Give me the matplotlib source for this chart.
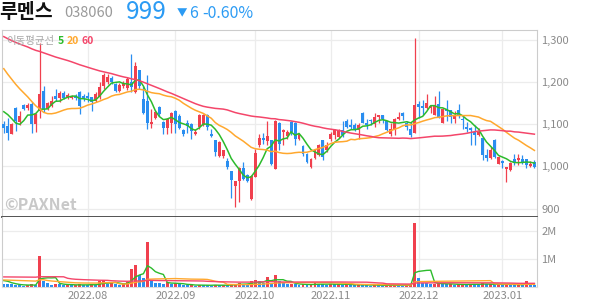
import matplotlib.pyplot as plt
import numpy as np
import pandas as pd
from matplotlib.ticker import FuncFormatter

plt.rcParams['font.family'] = ['Noto Sans CJK KR', 'DejaVu Sans']

# 일봉 데이터 (2022-07-01 ~ 2023-01-12)
opens = [1100, 1096, 1078, 1138, 1106, 1146, 1138, 1148, 1102, 1132,
         1178, 1136, 1144, 1168, 1162, 1174, 1163, 1163, 1168, 1176,
         1168, 1168, 1164, 1156, 1164, 1192, 1200, 1210, 1196, 1180,
         1190, 1186, 1200, 1176, 1228, 1160, 1156, 1102, 1116, 1140,
         1106, 1092, 1104, 1132, 1120, 1087, 1104, 1102, 1076, 1094,
         1099, 1121, 1076, 1062, 1025, 1025, 1012, 989, 954, 965,
         997, 979, 922, 975, 1052, 1068, 1061, 1062, 995, 1104,
         1083, 1072, 1106, 1104, 1065, 1048, 1030, 999, 1019, 1028,
         1062, 1038, 1065, 1074, 1070, 1086, 1107, 1098, 1099, 1086,
         1128, 1103, 1111, 1102, 1117, 1121, 1107, 1076, 1088, 1113,
         1128, 1104, 1088, 1080, 1149, 1143, 1139, 1139, 1123, 1149,
         1104, 1137, 1133, 1113, 1133, 1113, 1094, 1091, 1082, 1074,
         1068, 1028, 1019, 1062, 1007, 1012, 995, 991, 1017, 1015,
         1017, 1017, 1000, 1010]
highs = [1108, 1116, 1102, 1140, 1132, 1148, 1150, 1152, 1128, 1292,
         1192, 1154, 1168, 1184, 1178, 1180, 1174, 1170, 1172, 1180,
         1172, 1176, 1166, 1176, 1200, 1222, 1220, 1214, 1198, 1198,
         1202, 1212, 1268, 1248, 1230, 1192, 1218, 1136, 1134, 1144,
         1108, 1114, 1130, 1134, 1124, 1090, 1110, 1104, 1090, 1124,
         1124, 1124, 1090, 1064, 1060, 1040, 1019, 990, 966, 999,
         1011, 983, 979, 1042, 1076, 1080, 1107, 1064, 1110, 1106,
         1088, 1087, 1107, 1106, 1078, 1050, 1032, 1019, 1042, 1054,
         1064, 1058, 1082, 1088, 1090, 1107, 1112, 1112, 1102, 1102,
         1130, 1113, 1113, 1128, 1122, 1122, 1108, 1102, 1114, 1129,
         1130, 1107, 1106, 1305, 1155, 1157, 1173, 1147, 1167, 1178,
         1139, 1157, 1135, 1131, 1149, 1121, 1106, 1094, 1098, 1091,
         1070, 1042, 1046, 1065, 1025, 1015, 999, 1010, 1030, 1030,
         1028, 1017, 1012, 1015]
lows = [1080, 1062, 1076, 1084, 1098, 1134, 1134, 1080, 1082, 1116,
        1130, 1134, 1140, 1156, 1154, 1160, 1160, 1160, 1158, 1124,
        1156, 1152, 1132, 1152, 1160, 1184, 1196, 1196, 1176, 1176,
        1186, 1182, 1176, 1174, 1184, 1124, 1088, 1092, 1112, 1120,
        1078, 1078, 1080, 1080, 1088, 1072, 1080, 1065, 1074, 1090,
        1096, 1087, 1070, 1025, 1022, 1020, 995, 924, 904, 916,
        967, 963, 920, 975, 1046, 1054, 1050, 1004, 994, 1038,
        1050, 1066, 1074, 1050, 1062, 1025, 1008, 997, 1017, 1026,
        1016, 1034, 1060, 1065, 1068, 1070, 1091, 1090, 1085, 1066,
        1102, 1088, 1098, 1094, 1102, 1102, 1084, 1072, 1074, 1110,
        1110, 1086, 1070, 1079, 1114, 1121, 1136, 1128, 1121, 1115,
        1102, 1107, 1104, 1104, 1115, 1088, 1082, 1050, 1052, 1072,
        1015, 1012, 1017, 1019, 1005, 997, 963, 989, 1004, 1004,
        1007, 997, 998, 997]
closes = [1092, 1080, 1100, 1108, 1120, 1136, 1146, 1102, 1124, 1172,
          1136, 1150, 1156, 1160, 1174, 1162, 1170, 1168, 1162, 1144,
          1160, 1162, 1152, 1172, 1188, 1218, 1212, 1200, 1180, 1194,
          1198, 1208, 1188, 1238, 1192, 1128, 1104, 1106, 1130, 1124,
          1092, 1112, 1126, 1100, 1092, 1076, 1096, 1084, 1082, 1121,
          1121, 1094, 1072, 1034, 1058, 1038, 999, 967, 965, 997,
          971, 966, 977, 1031, 1068, 1062, 1072, 1007, 1107, 1054,
          1087, 1082, 1082, 1065, 1076, 1030, 1011, 1017, 1038, 1052,
          1023, 1052, 1076, 1087, 1087, 1074, 1094, 1094, 1088, 1098,
          1104, 1098, 1107, 1117, 1121, 1112, 1086, 1088, 1112, 1117,
          1120, 1094, 1074, 1147, 1141, 1139, 1151, 1144, 1147, 1117,
          1137, 1131, 1117, 1121, 1123, 1110, 1090, 1087, 1074, 1082,
          1028, 1019, 1038, 1023, 1023, 1008, 999, 1008, 1009, 1021,
          1011, 1004, 1005, 999]
# 거래량 (백만주)
volumes = [0.12, 0.10, 0.09, 0.08, 0.06, 0.05, 0.07, 0.09, 0.08, 1.12,
           0.21, 0.14, 0.08, 0.12, 0.10, 0.07, 0.08, 0.06, 0.07, 0.10,
           0.08, 0.07, 0.09, 0.06, 0.20, 0.24, 0.10, 0.16, 0.12, 0.08,
           0.10, 0.18, 0.64, 0.79, 0.43, 0.33, 1.62, 0.21, 0.15, 0.14,
           0.12, 0.18, 0.11, 0.13, 0.09, 0.08, 0.06, 0.07, 0.05, 0.08,
           0.07, 0.06, 0.05, 0.08, 0.06, 0.07, 0.06, 0.09, 0.12, 0.14,
           0.10, 0.08, 0.20, 0.26, 0.20, 0.14, 0.37, 0.15, 0.43, 0.21,
           0.15, 0.10, 0.12, 0.10, 0.08, 0.09, 0.07, 0.10, 0.13, 0.11,
           0.09, 0.08, 0.12, 0.10, 0.11, 0.08, 0.09, 0.07, 0.06, 0.10,
           0.08, 0.06, 0.05, 0.08, 0.06, 0.05, 0.06, 0.07, 0.08, 0.06,
           0.05, 0.06, 0.07, 2.30, 0.31, 0.15, 0.14, 0.10, 0.12, 0.13,
           0.12, 0.09, 0.10, 0.08, 0.09, 0.10, 0.08, 0.12, 0.10, 0.08,
           0.14, 0.09, 0.10, 0.08, 0.11, 0.07, 0.12, 0.09, 0.07, 0.08,
           0.06, 0.21, 0.08, 0.07]

# 차트 이전 구간 (이동평균 계산용)
prior_closes = [1380, 1365, 1372, 1350, 1340, 1358, 1362, 1345, 1330, 1338,
                1352, 1360, 1348, 1335, 1325, 1340, 1355, 1368, 1350, 1342,
                1336, 1330, 1345, 1358, 1350, 1340, 1332, 1345, 1352, 1338,
                1330, 1342, 1355, 1348, 1335, 1328, 1340, 1352, 1345, 1338,
                1345, 1338, 1350, 1332, 1325, 1340, 1318, 1330, 1322, 1300,
                1210, 1160, 1125, 1108, 1090, 1115, 1148, 1160, 1135]
prior_volumes = [0.14, 0.18, 0.12, 0.16, 0.13, 0.20, 0.15, 0.11, 0.14, 0.17,
                 0.13, 0.15, 0.12, 0.18, 0.14,
                 3.25, 1.40, 0.85, 0.60, 0.45, 0.38, 0.30, 0.52, 0.41, 0.33,
                 0.28, 0.95, 0.62, 0.40, 0.35, 0.30, 0.27, 0.44, 0.36, 0.31,
                 0.25, 0.48, 0.34, 0.29, 0.25,
                 0.20, 0.18, 0.22, 0.15, 0.17, 0.14, 0.19, 0.16, 0.21, 0.18,
                 0.70, 0.42, 0.38, 0.30, 0.28, 0.22, 0.35, 0.25, 0.20]

holidays = ['2022-08-15', '2022-09-09', '2022-09-12', '2022-10-03',
            '2022-10-10', '2022-12-30']
ma_periods = [5, 20, 60]
ma_colors = ['#2cbb2c', '#ffa82e', '#f4466a']

RED = '#f0404e'
BLUE = '#2a8ef0'

dates = pd.bdate_range('2022-07-01', '2023-01-12')
dates = dates[~dates.isin(pd.to_datetime(holidays))]
n = len(closes)
x = np.arange(n)
o, h, l, c = map(np.array, (opens, highs, lows, closes))
colors = np.where(c >= o, RED, BLUE)

all_close = pd.Series(prior_closes + closes)
all_vol = pd.Series(prior_volumes + volumes)
k = len(prior_closes)
# 거래량 막대: 전일 대비 증가 빨강, 감소 파랑
vol_up = all_vol.diff().values[k:] > 0
vcolors = np.where(vol_up, RED, BLUE)

fig = plt.figure(figsize=(5.94, 3.04), dpi=100)
W, H = 594, 304
ax = fig.add_axes([2 / W, (H - 217) / H, 535 / W, 187 / H])
axv = fig.add_axes([2 / W, (H - 287) / H, 535 / W, 70 / H])

# 월 시작 위치
month_pos = []
month_lab = []
for i in range(1, n):
    if dates[i].month != dates[i - 1].month:
        month_pos.append(i)
        month_lab.append(dates[i].strftime('%Y.%m'))

for a in (ax, axv):
    a.set_xlim(-0.45, n - 0.35)
    a.set_xticks(month_pos)
    a.grid(True, color='#ececec', lw=0.9, zorder=0)
    a.set_axisbelow(True)
    a.yaxis.tick_right()
    a.tick_params(axis='both', length=0, labelsize=8, labelcolor='#8a8a8a', pad=3)
    for s in ('left', 'right', 'top'):
        a.spines[s].set_color('#cccccc')

# 가격 차트
ax.vlines(x, l, h, colors=colors, lw=0.9, zorder=2)
ax.bar(x, np.maximum(np.abs(c - o), 0.9), bottom=np.minimum(o, c), width=0.74,
       color=colors, zorder=3)
for p, col in zip(ma_periods, ma_colors):
    ma = all_close.rolling(p).mean().values[k:]
    ax.plot(x, ma, color=col, lw=1.1, zorder=4)
ax.set_ylim(880, 1324)
ax.set_yticks([900, 1000, 1100, 1200, 1300])
ax.yaxis.set_major_formatter(FuncFormatter(lambda v, _: f'{int(v):,}'))
ax.set_xticklabels([])
ax.spines['bottom'].set_color('#444444')
ax.spines['bottom'].set_linewidth(1.3)

# 거래량 차트
axv.bar(x, volumes, width=0.74, color=vcolors, zorder=2)
for p, col in zip(ma_periods, ma_colors):
    ma = all_vol.rolling(p).mean().values[k:]
    axv.plot(x, ma, color=col, lw=1.0, zorder=3)
axv.set_ylim(0, 2.5)
axv.set_yticks([1, 2])
axv.set_yticklabels(['1M', '2M'])
axv.set_xticklabels(month_lab)
axv.spines['top'].set_visible(False)
axv.spines['bottom'].set_color('#dddddd')

# 헤더
def ftext(px, py, s, **kw):
    fig.text(px / W, 1 - py / H, s, va='center', ha='left', **kw)

ftext(-1, 12, '루멘스', fontsize=14, fontweight='bold', color='#111111')
ftext(64, 13, '038060', fontsize=10.5, color='#9a9a9a')
ftext(126, 12, '999', fontsize=17.5, color='#2b9bf4')
ftext(177, 13, '▼', fontsize=7.5, color='#2b9bf4')
ftext(189, 13, '6', fontsize=11.5, color='#2b9bf4')
ftext(202, 13, '-0.60%', fontsize=11.5, color='#2b9bf4')

# 이동평균 범례
ftext(6, 41, '이동평균선', fontsize=7.5, color='#a8a8a8')
ftext(58, 41, '5', fontsize=7.5, fontweight='bold', color=ma_colors[0])
ftext(67, 41, '20', fontsize=7.5, fontweight='bold', color=ma_colors[1])
ftext(82, 41, '60', fontsize=7.5, fontweight='bold', color=ma_colors[2])

ftext(4, 205, '©PAXNet', fontsize=11.5, fontweight='bold', color='#c8c8c8')

fig.savefig('out.png', dpi=100)
